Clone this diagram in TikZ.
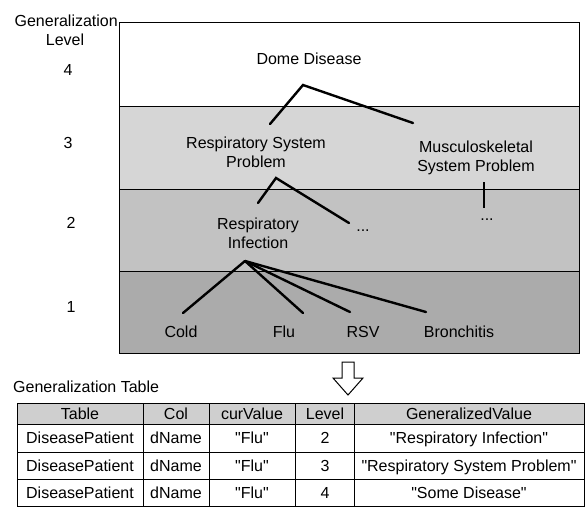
\documentclass[tikz,border=0pt]{standalone}
\usepackage{fontspec}
\setmainfont{Liberation Sans}[Ligatures=TeXReset]
\definecolor{levthree}{HTML}{D6D6D6}
\definecolor{levtwo}{HTML}{C2C2C2}
\definecolor{levone}{HTML}{ABABAB}
\definecolor{hdrgray}{HTML}{CFCFCF}
\begin{document}
\begin{tikzpicture}[x=1pt,y=-1pt,
  txt/.style={font=\fontsize{16}{19}\selectfont, inner sep=0pt, align=center},
  lbl/.style={txt, text height=11.6pt, text depth=0pt},
  branch/.style={line width=2.4pt, line cap=round},
  thinline/.style={draw=black, line width=0.8pt},
  cellline/.style={draw=black, line width=0.9pt},
  hollowarrow/.style={draw=black, line width=1pt, fill=white, line join=miter},
]
\useasboundingbox (0,0) rectangle (586,509);

% ---- bands ----
\fill[levthree] (119,106) rectangle (579,189);
\fill[levtwo]   (119,189) rectangle (579,271);
\fill[levone]   (119,271) rectangle (579,353);
\draw[thinline] (119,22) rectangle (579,353);
\draw[thinline] (119,106) -- (579,106);
\draw[thinline] (119,189) -- (579,189);
\draw[thinline] (119,271) -- (579,271);

% ---- left labels ----
\node[lbl, anchor=east] (genlab) at (118,21) {Generalization};
\node[lbl] (levlab) at (65,40) {Level};
\node[lbl] (n4) at (68,70) {4};
\node[lbl] (n3) at (68,143) {3};
\node[lbl] (n2) at (71,223) {2};
\node[lbl] (n1) at (71,307) {1};

% ---- tree texts ----
\node[lbl] (dome) at (309,59) {Dome Disease};
\node[txt] (rsp) at (256,152.5) {Respiratory System\\Problem};
\node[txt] (msp) at (476,157.5) {Musculoskeletal\\System Problem};
\node[txt] (rin) at (258,233) {Respiratory\\Infection};
\node[txt, anchor=base] (dotsa) at (363,231) {...};
\node[txt, anchor=base] (dotsb) at (487,220) {...};
\node[lbl] (cold) at (181,332) {Cold};
\node[lbl] (flu) at (284,332) {Flu};
\node[lbl] (rsv) at (363,332) {RSV};
\node[lbl] (bron) at (459,332) {Bronchitis};

% ---- connector points ----
\coordinate (domeapex) at (303,85);
\coordinate (rsptop) at (270,124);
\coordinate (msptop) at (413,123);
\coordinate (rspapex) at (276,178);
\coordinate (rintop) at (258,203);
\coordinate (dotsatop) at (349,223);
\coordinate (mspbot) at (484,182);
\coordinate (dotsbtop) at (484,208);
\coordinate (rinapex) at (245,261);
\coordinate (coldtop) at (183,313);
\coordinate (flutop) at (303,313);
\coordinate (rsvtop) at (350,312);
\coordinate (brontop) at (426,312);

\draw[branch] (rsptop) -- (domeapex) -- (msptop);
\draw[branch] (rintop) -- (rspapex) -- (dotsatop);
\draw[line width=1.6pt] (mspbot) -- (dotsbtop);
\draw[branch] (coldtop) -- (rinapex);
\draw[branch] (rinapex) -- (flutop);
\draw[branch] (rinapex) -- (rsvtop);
\draw[branch] (rinapex) -- (brontop);

% ---- arrow ----
\draw[hollowarrow] (342,362) -- (354,362) -- (354,378) -- (363,378) -- (348,395)
  -- (333,378) -- (342,378) -- cycle;

% ---- table ----
\node[lbl, anchor=west] (ttitle) at (13,387) {Generalization Table};
\fill[hdrgray] (17,403) rectangle (584,424);
\draw[cellline] (17,403) rectangle (584,506);
\foreach \yy in {424,452,479} \draw[cellline] (17,\yy) -- (584,\yy);
\foreach \xx in {143,209,295,354} \draw[cellline] (\xx,403) -- (\xx,506);

\node[lbl] (h1) at (80,413.5) {Table};
\node[lbl] (h2) at (176,413.5) {Col};
\node[lbl] (h3) at (252,413.5) {curValue};
\node[lbl] (h4) at (325,413.5) {Level};
\node[lbl] (h5) at (469,413.5) {GeneralizedValue};

\node[lbl] (a1) at (80,438) {DiseasePatient};
\node[lbl] (a2) at (176,438) {dName};
\node[lbl] (a3) at (252,438) {"Flu"};
\node[lbl] (a4) at (325,438) {2};
\node[lbl] (a5) at (469,438) {"Respiratory Infection"};

\node[lbl] (b1) at (80,465.5) {DiseasePatient};
\node[lbl] (b2) at (176,465.5) {dName};
\node[lbl] (b3) at (252,465.5) {"Flu"};
\node[lbl] (b4) at (325,465.5) {3};
\node[lbl] (b5) at (469,465.5) {"Respiratory System Problem"};

\node[lbl] (c1) at (80,492.5) {DiseasePatient};
\node[lbl] (c2) at (176,492.5) {dName};
\node[lbl] (c3) at (252,492.5) {"Flu"};
\node[lbl] (c4) at (325,492.5) {4};
\node[lbl] (c5) at (469,492.5) {"Some Disease"};
\end{tikzpicture}
\end{document}
